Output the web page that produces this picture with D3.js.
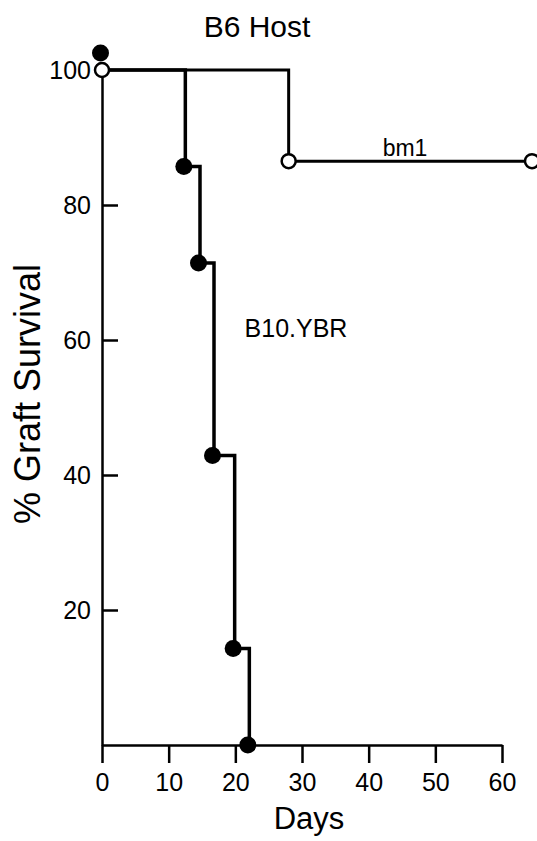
<!DOCTYPE html>
<html>
<head>
<meta charset="utf-8">
<script src="https://cdn.jsdelivr.net/npm/d3@7"></script>
<style>
  body { margin: 0; background: #fff; }
  text { font-family: "Liberation Sans", Arial, sans-serif; fill: #000; }
</style>
</head>
<body>
<div id="chart"></div>
<script>
const width = 537;
const height = 841;

// data
const bm1Days = [0, 28, 64.5];
const bm1Survival = [100, 86.5, 86.5];
const ybrDays = [0, 12.5, 14.7, 16.8, 19.9, 22.1];
const ybrSurvival = [100, 85.7, 71.4, 42.9, 14.3, 0];
const xTicks = [0, 10, 20, 30, 40, 50, 60];
const yTicks = [20, 40, 60, 80, 100];

const svg = d3.select("#chart")
    .append("svg")
    .attr("width", width)
    .attr("height", height);

const x = d3.scaleLinear().domain([0, 60]).range([102, 502]);
const y = d3.scaleLinear().domain([0, 100]).range([745, 70]);

// axes
const xAxis = svg.append("g")
    .attr("transform", `translate(0,${y(0)})`)
    .call(d3.axisBottom(x).tickValues(xTicks).tickSize(18).tickSizeOuter(0).tickPadding(10));

const yAxis = svg.append("g")
    .attr("transform", `translate(${x(0)},0)`)
    .call(d3.axisLeft(y).tickValues(yTicks).tickSize(-16).tickSizeOuter(0).tickPadding(11));

[xAxis, yAxis].forEach(g => {
    g.select(".domain").attr("stroke", "#000").attr("stroke-width", 2.5);
    g.selectAll(".tick line").attr("stroke", "#000").attr("stroke-width", 2.5);
    g.selectAll(".tick text")
        .style("font-family", "'Liberation Sans', Arial, sans-serif")
        .style("font-size", "25px")
        .attr("fill", "#000");
});
yAxis.selectAll(".tick line").filter(d => d === 100).remove();

// step lines
const step = d3.line()
    .x(d => x(d[0]))
    .y(d => y(d[1]))
    .curve(d3.curveStepAfter);

const bm1 = bm1Days.map((d, i) => [d, bm1Survival[i]]);
const ybr = ybrDays.map((d, i) => [d, ybrSurvival[i]]);

svg.append("path")
    .datum(ybr)
    .attr("d", step)
    .attr("fill", "none")
    .attr("stroke", "#000")
    .attr("stroke-width", 3.5);

svg.append("path")
    .datum(bm1)
    .attr("d", step)
    .attr("fill", "none")
    .attr("stroke", "#000")
    .attr("stroke-width", 3);

// markers: filled circle at day 0 is lifted so it doesn't hide the open one
svg.selectAll(".ybr")
    .data(ybr)
    .enter().append("circle")
    .attr("class", "ybr")
    .attr("cx", d => x(d[0]) - 1.5)
    .attr("cy", d => y(d[1]) + (d[0] === 0 ? -17 : 0))
    .attr("r", 8.5)
    .attr("fill", "#000");

svg.selectAll(".bm1")
    .data(bm1)
    .enter().append("circle")
    .attr("class", "bm1")
    .attr("cx", d => x(d[0]))
    .attr("cy", d => y(d[1]))
    .attr("r", 7)
    .attr("fill", "#fff")
    .attr("stroke", "#000")
    .attr("stroke-width", 2.5);

// labels
svg.append("text")
    .attr("x", 257)
    .attr("y", 37)
    .attr("text-anchor", "middle")
    .style("font-size", "30px")
    .text("B6 Host");

svg.append("text")
    .attr("x", 309)
    .attr("y", 829)
    .attr("text-anchor", "middle")
    .style("font-size", "31px")
    .text("Days");

svg.append("text")
    .attr("transform", "translate(40,394) rotate(-90)")
    .attr("text-anchor", "middle")
    .style("font-size", "36px")
    .text("% Graft Survival");

svg.append("text")
    .attr("x", 405)
    .attr("y", 156)
    .attr("text-anchor", "middle")
    .style("font-size", "23px")
    .text("bm1");

svg.append("text")
    .attr("x", 296)
    .attr("y", 337)
    .attr("text-anchor", "middle")
    .style("font-size", "25px")
    .text("B10.YBR");
</script>
</body>
</html>
